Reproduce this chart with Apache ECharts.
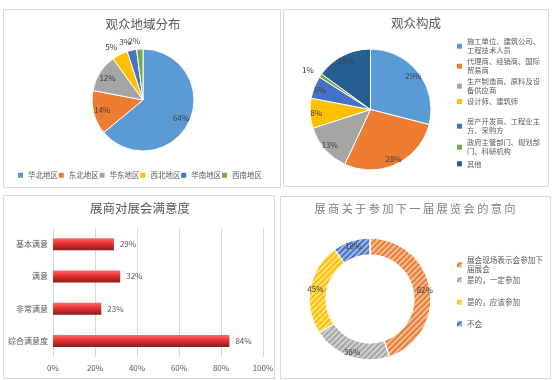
<!DOCTYPE html>
<html>
<head>
<meta charset="utf-8">
<script src="https://cdn.jsdelivr.net/npm/echarts@6/dist/echarts.min.js"></script>
<style>
html,body{margin:0;padding:0;background:#fff;}
#c{width:554px;height:380px;}
</style>
</head>
<body>
<div id="c"></div>
<script>
// ---- data ----
const regionNames = ['华北地区', '东北地区', '华东地区', '西北地区', '华南地区', '西南地区'];
const regionValues = [64, 14, 12, 5, 3, 2];

const audienceNames = ['施工单位、建筑公司、工程技术人员', '代理商、经销商、国际贸易商', '生产制造商、原料及设备供应商', '设计师、建筑师', '房产开发商、工程业主方、采购方', '政府主管部门、规划部门、科研机构', '其他'];
const audienceValues = [29, 28, 13, 8, 6, 1, 15];

const satisfactionCats = ['基本满意', '满意', '非常满意', '综合满意度'];
const satisfactionValues = [29, 32, 23, 84];

const intentNames = ['展会现场表示会参加下届展会', '是的，一定参加', '是的，应该参加', '不会'];
const intentValues = [82, 38, 45, 18];

const titles = ['观众地域分布', '观众构成', '展商对展会满意度', '展商关于参加下一届展览会的意向'];

// ---- style / layout ----
const FONT = '"Noto Sans CJK SC", "Noto Sans", sans-serif';
const TXT = '#595959';
const LBL = '#404040';
const pal1 = ['#5B9BD5', '#ED7D31', '#A5A5A5', '#FFC000', '#4472C4', '#70AD47'];
const pal2 = ['#5B9BD5', '#ED7D31', '#A5A5A5', '#FFC000', '#4472C4', '#70AD47', '#255E91'];
const pal4 = ['#ED7D31', '#A5A5A5', '#FFC000', '#4472C4'];
const audienceLegendTops = [37.2, 57.2, 77.2, 97, 117.2, 138.2, 159.3];
const intentLegendTops = [255.2, 275, 297.5, 319];

const wrap10 = n => n.length > 10 ? n.slice(0, 10) + '\n' + n.slice(10) : n;

const chart = echarts.init(document.getElementById('c'), null, {renderer: 'canvas'});

const legendIconStyle = {borderWidth: 0};
const legends = [];
legends.push({
  data: regionNames, orient: 'horizontal', left: 18, top: 171.5, padding: 0,
  itemWidth: 5, itemHeight: 5, itemGap: 0.8, icon: 'rect', selectedMode: false,
  itemStyle: legendIconStyle,
  textStyle: {fontSize: 7.5, color: TXT, fontFamily: FONT}
});
audienceNames.forEach((n, i) => legends.push({
  data: [n], orient: 'vertical', left: 457, top: audienceLegendTops[i], padding: 0,
  itemWidth: 5, itemHeight: 5, icon: 'rect', selectedMode: false, formatter: wrap10,
  itemStyle: legendIconStyle,
  textStyle: {fontSize: 7.3, lineHeight: 9, color: TXT, fontFamily: FONT}
}));
intentNames.forEach((n, i) => legends.push({
  data: [n], orient: 'vertical', left: 457, top: intentLegendTops[i], padding: 0,
  itemWidth: 5, itemHeight: 5, icon: 'rect', selectedMode: false, formatter: wrap10,
  itemStyle: legendIconStyle,
  textStyle: {fontSize: 7.6, lineHeight: 9.5, color: TXT, fontFamily: FONT}
}));

const centerLabel = () => ({align: 'center', verticalAlign: 'middle'});

const titleStyle = {fontSize: 12.5, fontWeight: 'normal', color: TXT, fontFamily: FONT};
const option = {
  animation: false,
  backgroundColor: '#fff',
  textStyle: {fontFamily: FONT},
  title: [
    {text: titles[0], left: 143, top: 17.5, padding: 0, textAlign: 'center', textStyle: titleStyle},
    {text: titles[1], left: 416, top: 16.5, padding: 0, textAlign: 'center', textStyle: titleStyle},
    {text: titles[2], left: 140, top: 201.5, padding: 0, textAlign: 'center', textStyle: titleStyle},
    {text: titles[3].split('').join('\u2009'), left: 415, top: 203.5, padding: 0, textAlign: 'center',
     textStyle: Object.assign({}, titleStyle, {fontSize: 11.3, color: '#7F7F7F'})}
  ],
  legend: legends,
  graphic: [
    {type: 'rect', shape: {x: 3.5, y: 9.5, width: 277, height: 178}, style: {fill: 'none', stroke: '#D9D9D9', lineWidth: 1}, silent: true},
    {type: 'rect', shape: {x: 283.5, y: 9.5, width: 265, height: 177}, style: {fill: 'none', stroke: '#D9D9D9', lineWidth: 1}, silent: true},
    {type: 'rect', shape: {x: 3.5, y: 195.5, width: 271, height: 183}, style: {fill: 'none', stroke: '#D9D9D9', lineWidth: 1}, silent: true},
    {type: 'rect', shape: {x: 280.5, y: 196.5, width: 270, height: 182}, style: {fill: 'none', stroke: '#D9D9D9', lineWidth: 1}, silent: true}
  ],
  grid: [{left: 53, width: 210, top: 228, height: 129}],
  xAxis: [{
    type: 'value', gridIndex: 0, min: 0, max: 100, interval: 20,
    axisLabel: {formatter: '{value}%', fontSize: 8, color: TXT, margin: 7, fontFamily: FONT},
    axisLine: {show: false}, axisTick: {show: false},
    splitLine: {show: true, lineStyle: {color: '#D9D9D9', width: 1}}
  }],
  yAxis: [{
    type: 'category', gridIndex: 0, data: satisfactionCats, inverse: true,
    axisLine: {show: false}, axisTick: {show: false},
    axisLabel: {fontSize: 8, color: TXT, margin: 5, fontFamily: FONT}
  }],
  series: [
    {
      type: 'pie', center: [143, 100], radius: [0, 51], startAngle: 90, silent: true,
      color: pal1, label: {show: false}, labelLine: {show: false},
      itemStyle: {borderColor: '#fff', borderWidth: 1},
      data: regionNames.map((n, i) => ({name: n, value: regionValues[i]}))
    },
    {
      type: 'pie', center: [143, 100], radius: [27, 51], startAngle: 90, silent: true,
      avoidLabelOverlap: false, labelLayout: centerLabel,
      itemStyle: {color: 'rgba(0,0,0,0)'},
      labelLine: {show: false, length: 8, length2: 0},
      label: {formatter: '{c}%', fontSize: 8, color: LBL, fontFamily: FONT},
      data: regionNames.map((n, i) => ({name: n, value: regionValues[i],
        label: {position: regionValues[i] >= 10 ? 'inside' : 'outside'}}))
    },
    {
      type: 'pie', center: [370.5, 109.5], radius: [0, 60.5], startAngle: 90, silent: true,
      color: pal2, label: {show: false}, labelLine: {show: false},
      itemStyle: {borderColor: '#fff', borderWidth: 1},
      data: audienceNames.map((n, i) => ({name: n, value: audienceValues[i]}))
    },
    {
      type: 'pie', center: [370.5, 109.5], radius: [42, 60.5], startAngle: 90, silent: true,
      avoidLabelOverlap: false, labelLayout: centerLabel,
      itemStyle: {color: 'rgba(0,0,0,0)'},
      labelLine: {show: false, length: 9, length2: 0},
      label: {formatter: '{c}%', fontSize: 8, color: LBL, fontFamily: FONT},
      data: audienceNames.map((n, i) => ({name: n, value: audienceValues[i],
        label: {position: audienceValues[i] >= 3 ? 'inside' : 'outside'}}))
    },
    {
      type: 'bar', xAxisIndex: 0, yAxisIndex: 0, barWidth: 12, silent: true,
      data: satisfactionValues,
      itemStyle: {
        color: new echarts.graphic.LinearGradient(0, 0, 0, 1, [
          {offset: 0, color: '#FF6A6A'},
          {offset: 0.45, color: '#E83030'},
          {offset: 1, color: '#8A1E1E'}
        ])
      },
      label: {show: true, position: 'right', distance: 6, formatter: '{c}%', fontSize: 8, color: TXT, fontFamily: FONT}
    },
    {
      type: 'pie', center: [370, 299], radius: [44, 61], startAngle: 90, silent: true,
      avoidLabelOverlap: false, color: pal4,
      itemStyle: {
        borderColor: '#fff', borderWidth: 1,
        decal: {symbol: 'rect', symbolSize: 1, color: 'rgba(255,255,255,0.5)',
                dashArrayX: [1, 0], dashArrayY: [1.5, 1.5], rotation: -Math.PI / 4}
      },
      labelLine: {show: false},
      label: {position: 'inside', formatter: '{c}%', fontSize: 8, color: LBL, fontFamily: FONT},
      data: intentNames.map((n, i) => ({name: n, value: intentValues[i]}))
    }
  ]
};
chart.setOption(option);
</script>
</body>
</html>
